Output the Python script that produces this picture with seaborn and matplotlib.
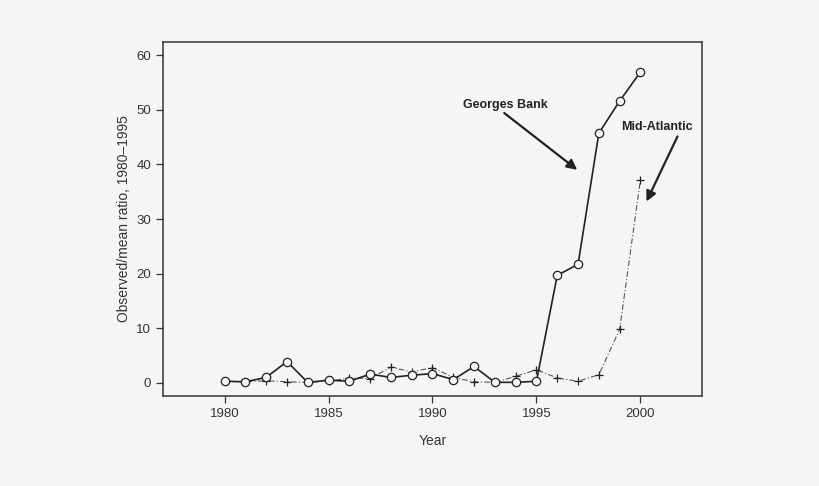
import matplotlib
matplotlib.use("Agg")
import matplotlib.pyplot as plt
import seaborn as sns
import pandas as pd

years = list(range(1980, 2001))
georges_bank = [0.3, 0.2, 1.0, 3.9, 0.1, 0.5, 0.3, 1.6, 1.0, 1.4, 1.7, 0.6, 3.0, 0.1, 0.1, 0.3,
                19.7, 21.7, 45.7, 51.6, 56.9]
mid_atlantic = [0.3, 0.2, 0.4, 0.2, 0.1, 0.3, 0.9, 0.8, 2.9, 2.0, 2.8, 1.0, 0.2, 0.1, 1.2, 2.4,
                0.9, 0.3, 1.5, 9.8, 37.2]
x_ticks = [1980, 1985, 1990, 1995, 2000]
y_ticks = [0, 10, 20, 30, 40, 50, 60]

sns.set_theme(style="ticks")
plt.rcParams['font.family'] = ['Liberation Sans', 'DejaVu Sans']

bg = "#f5f5f5"
fig = plt.figure(figsize=(8.2, 4.86), dpi=100, facecolor=bg)
ax = fig.add_axes([163/820, 1-396/486, 539/820, 354/486])
ax.set_facecolor(bg)

df_gb = pd.DataFrame({"Year": years, "val": georges_bank})
df_ma = pd.DataFrame({"Year": years, "val": mid_atlantic})

sns.lineplot(data=df_ma, x="Year", y="val", ax=ax, color="#555555", linewidth=0.8,
             linestyle=(0, (5, 2, 1, 2)), marker="+", markersize=6, markeredgewidth=0.9,
             markeredgecolor="#222222", zorder=2)
sns.lineplot(data=df_gb, x="Year", y="val", ax=ax, color="#222222", linewidth=1.2,
             marker="o", markersize=6, markerfacecolor=bg, markeredgecolor="#222222",
             markeredgewidth=0.9, zorder=3)

ax.set_xlim(1977.04, 2002.96)
ax.set_ylim(-2.4, 62.4)
ax.set_xticks(x_ticks)
ax.set_yticks(y_ticks)
ax.tick_params(axis="both", labelsize=9.5, colors="#333333", length=5, width=0.9, direction="out")
for s in ax.spines.values():
    s.set_color("#333333")
    s.set_linewidth(1.1)
ax.set_xlabel("Year", fontsize=10, color="#333333", labelpad=10)
ax.set_ylabel("Observed/mean ratio, 1980\u20131995", fontsize=10, color="#333333", labelpad=4)

arrow = dict(arrowstyle="-|>", color="#222222", lw=1.6, mutation_scale=15, shrinkA=0, shrinkB=0)
ax.text(1993.52, 50.9, "Georges Bank", ha="center", va="center", fontsize=9,
        fontweight="bold", color="#222222")
ax.annotate("", xy=(1996.96, 39.0), xytext=(1993.45, 49.4), arrowprops=arrow)
ax.text(2000.77, 46.9, "Mid-Atlantic", ha="center", va="center", fontsize=9,
        fontweight="bold", color="#222222")
ax.annotate("", xy=(2000.29, 33.2), xytext=(2001.78, 45.1), arrowprops=arrow)

fig.savefig("out.png", dpi=100, facecolor=bg)
